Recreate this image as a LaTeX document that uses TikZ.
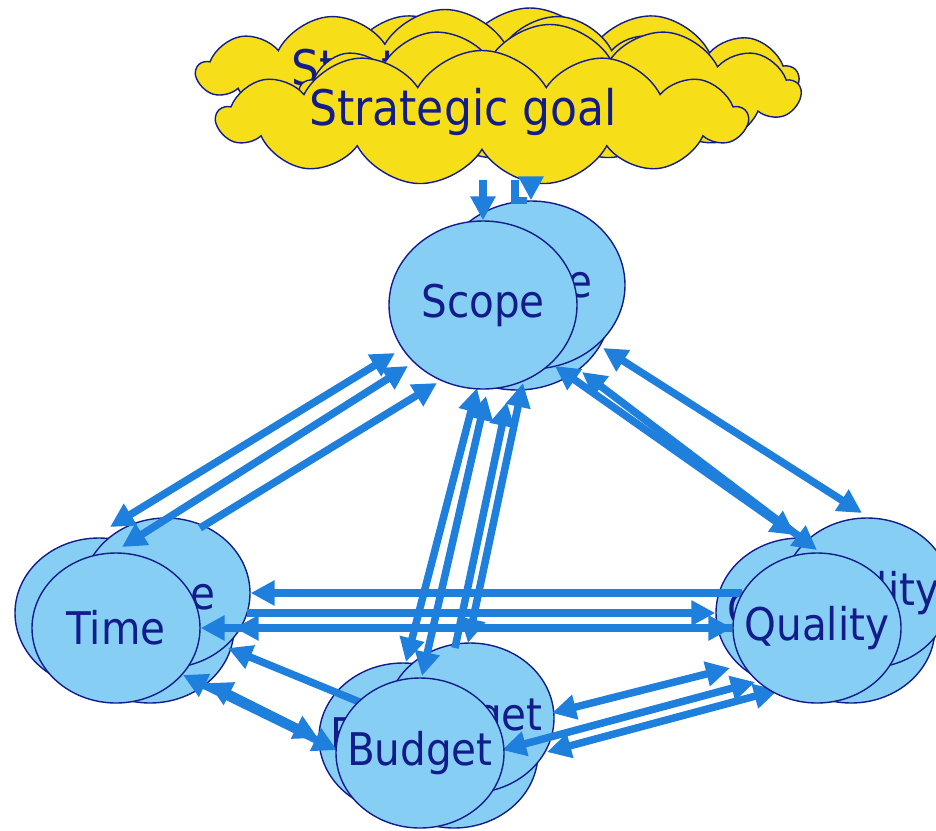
\documentclass[tikz,border=0pt]{standalone}
\usepackage{fontspec}
\setmainfont{DejaVu Sans Condensed}
\usetikzlibrary{shapes.geometric,shapes.symbols,arrows.meta,calc}
\definecolor{flowblue}{RGB}{30,127,220}
\definecolor{skyfill}{RGB}{135,206,245}
\definecolor{navy}{RGB}{18,28,138}
\definecolor{goalyellow}{RGB}{246,222,24}
\pgfdeclarelayer{back}
\pgfdeclarelayer{links}
\pgfsetlayers{back,links,main}
\newcommand\centred[1]{\makebox[0pt]{#1}}

\begin{document}
\begin{tikzpicture}[x=1pt,y=-1pt,line join=round,
  flow/.style={line width=7.5pt,draw=flowblue,-{Triangle[length=24pt,width=24pt]}},
  twoway/.style={flow,{Triangle[length=24pt,width=24pt]}-{Triangle[length=24pt,width=24pt]}},
  part/.style={ellipse,draw=navy,line width=1.4pt,fill=skyfill,text=navy,inner sep=0pt,
    minimum width=168,minimum height=150,font=\fontsize{45}{50}\selectfont},
  bigpart/.style={part,minimum width=188,minimum height=168},
  goalcloud/.style={cloud,cloud puffs=13,cloud puff arc=120,cloud ignores aspect,draw=navy,
    line width=1.4pt,fill=goalyellow,inner sep=0pt},
  goaltext/.style={text=navy,inner sep=0pt,font=\fontsize{49}{54}\selectfont}]
  \useasboundingbox (0,0) rectangle (936,830);

  \begin{pgfonlayer}{back}
    % goal clouds, back to front
    \node[goalcloud,minimum width=535,minimum height=140] (goalA) at (530,78) {};
    \node[goalcloud,minimum width=496,minimum height=125] (goalB) at (445,72) {};
    \node[goaltext] at (goalB) {Strategic goal};
    \node[goalcloud,minimum width=500,minimum height=135] (goalC) at (550,92) {};
    \node[goalcloud,minimum width=530,minimum height=135] (goal) at (482,118) {};
    % shifted copies of the four parts
    \node[bigpart] (scopeD) at (517,306) {};
    \node[bigpart] (scopeR) at (531,285) {\centred{Scope}};
    \node[part] (timeL) at (99,613) {\centred{Time}};
    \node[part] (timeD) at (150,628) {};
    \node[part] (timeR) at (166,593) {\centred{Time}};
    \node[part] (budgetL) at (403,738) {\centred{Budget}};
    \node[part] (budgetD) at (454,753) {};
    \node[part] (budgetR) at (470,718) {\centred{Budget}};
    \node[part] (qualityL) at (800,613) {\centred{Quality}};
    \node[part] (qualityD) at (851,628) {};
    \node[part] (qualityR) at (867,593) {\centred{Quality}};
  \end{pgfonlayer}

  \node[goaltext] (goaltitle) at (463,112) {Strategic goal};
  \node[bigpart] (scope) at (483,305) {\centred{Scope}};
  \node[part] (time) at (116,628) {\centred{Time}};
  \node[part] (budget) at (420,753) {\centred{Budget}};
  \node[part] (quality) at (817,628) {\centred{Quality}};

  \begin{pgfonlayer}{links}
    % goal -> scope, starting at the cloud's lower rim
    \draw[flow] ([yshift=40pt]scope.north) -- (scope.north);
    \draw[flow] ([yshift=20pt]scopeR.north) -- (scopeR.north);
    \draw[flow,-] ([xshift=-16pt,yshift=20pt]scopeR.north) |- ([xshift=-4pt]scopeR.north);
    % scope -- time
    \draw[twoway] ($(time)+(-6,-101)$) -- ($(scope)+(-88,48)$);
    \draw[twoway] ($(time)+(6,-81)$) -- ($(scope)+(-75,61)$);
    \draw[flow] ($(time)+(84,-100)$) -- ($(scope)+(-46,78)$);
    % scope -- budget
    \draw[twoway] ($(scope)+(-6,83)$) -- ($(budget)+(-14,-91)$);
    \draw[twoway] ($(scope)+(3,91)$) -- ($(budget)+(2,-77)$);
    \draw[twoway] ($(scope)+(40,78)$) -- ($(budget)+(48,-110)$);
    \draw[flow] ($(budget)+(35,-105)$) -- ($(scope)+(24,97)$);
    % scope -- quality
    \draw[twoway] ($(scope)+(120,43)$) -- ($(quality)+(45,-115)$);
    \draw[twoway] ($(scope)+(72,61)$) -- ($(quality)+(-22,-93)$);
    \draw[twoway] ($(scope)+(99,67)$) -- ($(quality)+(0,-78)$);
    % time -- quality
    \draw[flow] ($(quality)+(-75,-35)$) -- (timeR.east);
    \draw[flow] ($(time)+(131,-15)$) -- (qualityL.west);
    \draw[twoway] (time.east) -- (quality.west);
    \draw[flow] (quality.west) -- (timeD.east);
    % time -- budget
    \draw[flow] ($(budget)+(-58,-50)$) -- ($(time)+(112,20)$);
    \draw[twoway] ($(time)+(67,47)$) -- ($(budget)+(-83,-3)$);
    \draw[twoway] ($(time)+(92,55)$) -- ($(budget)+(-102,-15)$);
    % budget -- quality
    \draw[twoway] ($(budget)+(132,-40)$) -- ($(quality)+(-87,40)$);
    \draw[twoway] ($(budget)+(82,-3)$) -- ($(quality)+(-62,54)$);
    \draw[twoway] ($(budget)+(127,-1)$) -- ($(quality)+(-39,62)$);
  \end{pgfonlayer}
\end{tikzpicture}
\end{document}
